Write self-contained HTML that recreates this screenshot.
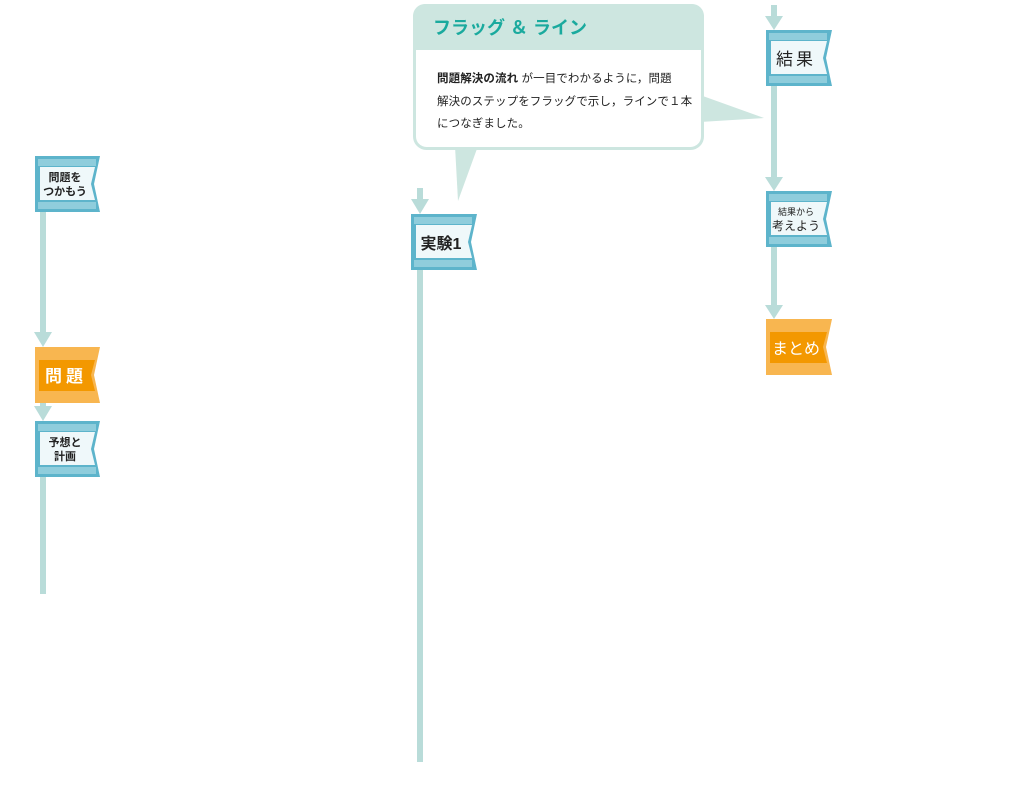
<!DOCTYPE html>
<html><head><meta charset="utf-8"><style>
html,body{margin:0;padding:0;background:#fff;}
svg{display:block;}
text{font-family:"Liberation Sans","Noto Sans CJK JP",sans-serif;}
</style></head><body>
<svg width="1016" height="802" viewBox="0 0 1016 802" xmlns="http://www.w3.org/2000/svg">
<g stroke="#b9dcd9" stroke-width="6" fill="none">
<line x1="43" y1="212" x2="43" y2="336"/>
<line x1="43" y1="400" x2="43" y2="410"/>
<line x1="43" y1="474" x2="43" y2="594"/>
<line x1="420" y1="188" x2="420" y2="203"/>
<line x1="420" y1="268" x2="420" y2="762"/>
<line x1="774" y1="5" x2="774" y2="20"/>
<line x1="774" y1="84" x2="774" y2="180"/>
<line x1="774" y1="245" x2="774" y2="308"/>
</g>
<g fill="#b9dcd9">
<polygon points="34,332 52,332 43,347"/>
<polygon points="34,406 52,406 43,421"/>
<polygon points="411,199 429,199 420,214"/>
<polygon points="765,16 783,16 774,30"/>
<polygon points="765,177 783,177 774,191"/>
<polygon points="765,305 783,305 774,319"/>
</g>
<polygon points="455,146 478,146 458,201" fill="#cde6e0"/>
<polygon points="700,95 700,122 764,118" fill="#cde6e0"/>
<rect x="414.5" y="5.5" width="288" height="143" rx="12" fill="#fff" stroke="#cde6e0" stroke-width="3"/>
<path d="M413,50 V16 a12,12 0 0 1 12,-12 H692 a12,12 0 0 1 12,12 V50 Z" fill="#cde6e0"/>
<text x="433" y="34" font-size="18" font-weight="bold" fill="#1aaa9e">フラッグ ＆ ライン</text>
<text font-size="11.5" fill="#222" letter-spacing="0.1"><tspan x="437" y="82"><tspan font-weight="bold">問題解決の流れ</tspan> が一目でわかるように，問題</tspan><tspan x="437" y="105">解決のステップをフラッグで示し，ラインで１本</tspan><tspan x="437" y="127">につなぎました。</tspan></text>
<g fill="#5db4cb">
<polygon points="35,156 100,156 94,184 100,212 35,212"/>
<polygon points="35,421 100,421 94,449 100,477 35,477"/>
<polygon points="411,214 477,214 471,242 477,270 411,270"/>
<polygon points="766,30 832,30 826,58 832,86 766,86"/>
<polygon points="766,191 832,191 826,219 832,247 766,247"/>
</g>
<g fill="#8fcddc">
<rect x="38" y="159" width="58" height="7"/><rect x="38" y="202" width="58" height="7"/>
<rect x="38" y="424" width="58" height="7"/><rect x="38" y="467" width="58" height="7"/>
<rect x="414" y="217" width="58" height="7"/><rect x="414" y="260" width="58" height="7"/>
<rect x="769" y="33" width="58" height="7"/><rect x="769" y="76" width="58" height="7"/>
<rect x="769" y="194" width="58" height="7"/><rect x="769" y="237" width="58" height="7"/>
</g>
<g fill="#eff8fa">
<polygon points="40,167 95,167 91,184 95,200 40,200"/>
<polygon points="40,432 95,432 91,449 95,465 40,465"/>
<polygon points="416,225 472,225 468,242 472,258 416,258"/>
<polygon points="771,41 827,41 823,58 827,74 771,74"/>
<polygon points="771,202 827,202 823,219 827,235 771,235"/>
</g>
<g fill="#f8b650">
<polygon points="35,347 100,347 94,375 100,403 35,403"/>
<polygon points="766,319 832,319 826,347 832,375 766,375"/>
</g>
<g fill="#f39800">
<polygon points="39,360 95,360 91,375 95,391 39,391"/>
<polygon points="770,332 827,332 823,347 827,363 770,363"/>
</g>
<g font-weight="bold" fill="#222" text-anchor="middle">
<text x="65" y="181" font-size="11">問題を</text>
<text x="65" y="195" font-size="11">つかもう</text>
<text x="65" y="446" font-size="11">予想と</text>
<text x="65" y="460" font-size="11">計画</text>
<text x="441" y="249" font-size="16">実験1</text>
<text x="796" y="65" font-size="17" font-weight="normal" letter-spacing="3">結果</text>
<text x="796" y="215" font-size="9" font-weight="normal">結果から</text>
<text x="796" y="230" font-size="12" font-weight="normal">考えよう</text>
<text x="66" y="382" font-size="17" fill="#fff" letter-spacing="4">問題</text>
<text x="796" y="354" font-size="16" fill="#fff" font-weight="normal">まとめ</text>
</g>
</svg>
</body></html>
